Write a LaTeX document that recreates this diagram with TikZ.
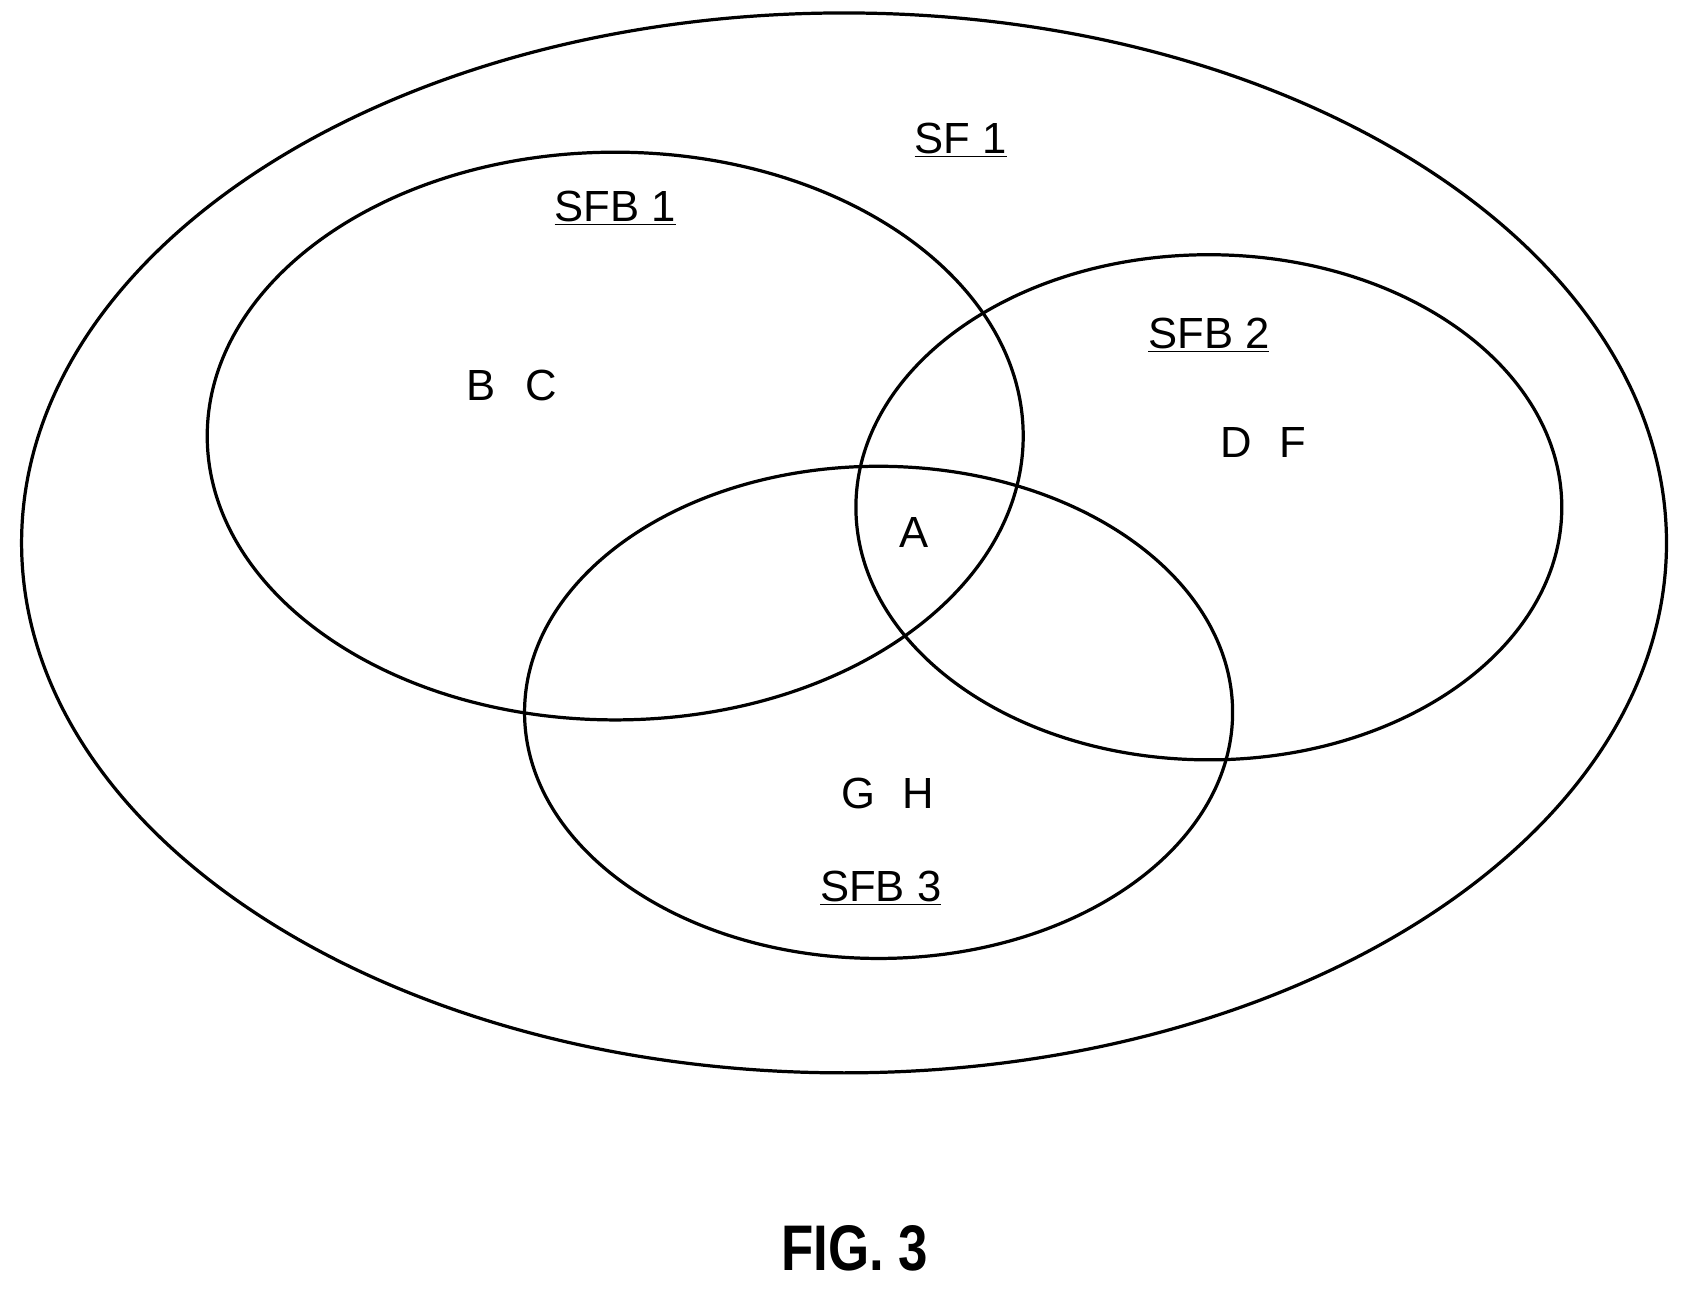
\documentclass[tikz,border=0pt]{standalone}
\usepackage{fontspec}
\setmainfont{Liberation Sans}
\begin{document}
\begin{tikzpicture}[x=0.02cm,y=-0.02cm,
  ring/.style={draw=black,line width=1.7pt},
  lbl/.style={font=\fontsize{23}{26}\selectfont,inner sep=0pt}]
\useasboundingbox (0,0) rectangle (1563,1196);
\draw[ring] (782,503) ellipse [x radius=762, y radius=491];
\draw[ring] (570,404) ellipse [x radius=378, y radius=263];
\draw[ring] (1120,470) ellipse [x radius=327, y radius=234];
\draw[ring] (814,660) ellipse [x radius=328, y radius=228];
\node[lbl] (sf1) at (890,130) {\underline{SF 1}};
\node[lbl] (sfb1) at (570,193) {\underline{SFB 1}};
\node[lbl] (sfb2) at (1120,311) {\underline{SFB 2}};
\node[lbl] (sfb3) at (816,823) {\underline{SFB 3}};
\node[lbl] (b) at (446,357) {B};
\node[lbl] (c) at (501,357) {C};
\node[lbl] (d) at (1145,410) {D};
\node[lbl] (f) at (1198,410) {F};
\node[lbl] (a) at (847,493) {A};
\node[lbl] (g) at (795,735) {G};
\node[lbl] (h) at (851,735) {H};
\node[inner sep=0pt,font=\bfseries\fontsize{34}{38}\selectfont] (fig) at (792,1157) {\scalebox{0.82}[1]{FIG. 3}};
\end{tikzpicture}
\end{document}
